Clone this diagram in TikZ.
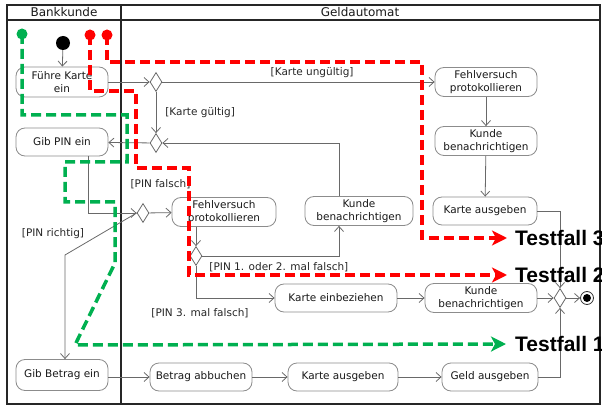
\documentclass[tikz,border=0pt]{standalone}
\usepackage{fontspec}
\setsansfont{DejaVu Sans}
\newfontfamily\tffont{Liberation Sans}
\usepackage{xcolor}
\usepackage{tikz}
\usetikzlibrary{%
  shapes.geometric,
  arrows.meta,
  positioning,
  calc}
\definecolor{tfgreen}{RGB}{0,176,80}
\definecolor{tfred}{RGB}{255,0,0}
\definecolor{umlline}{RGB}{105,105,105}
\definecolor{umlborder}{RGB}{140,140,140}
\tikzset{
  %% Activity boxes
  actbox/.style={
    rectangle, rounded corners=9pt,
    draw=umlborder, fill=white, line width=0.8pt,
    align=center, inner sep=1pt,
    minimum height=29pt, text=black!90,
    font=\fontsize{10.5}{12.5}\selectfont\sffamily},
  %% Decision / merge diamonds
  decision/.style={
    diamond, draw=umlline, fill=white, line width=0.8pt,
    inner sep=0pt, minimum width=12pt, minimum height=19pt},
  %% Start and end
  initnode/.style={circle, fill=black, inner sep=0pt, minimum size=14pt},
  finalnode/.style={
    circle, draw=black!80, fill=white, line width=0.8pt,
    inner sep=0pt, minimum size=13pt,
    path picture={\fill[black] (path picture bounding box.center) circle (4pt);}},
  tfdot/.style={circle, fill=#1, inner sep=0pt, minimum size=11pt},
  %% Texts
  guard/.style={font=\fontsize{10.5}{12.5}\selectfont\sffamily,
    text=black!85, inner sep=0pt},
  lanehead/.style={font=\fontsize{12}{14}\selectfont\sffamily,
    text=black!90, inner sep=0pt},
  tflabel/.style={font=\tffont\bfseries\fontsize{21}{24}\selectfont,
    inner sep=0pt, anchor=west},
  %% Arrows
  arrow/.style={-{Straight Barb[length=5pt,width=9pt]}, line width=0.8pt, umlline},
  tfpath/.style={draw=#1, line width=3.5pt, dash pattern=on 10pt off 5pt,
    -{Stealth[length=15pt,width=15pt,inset=4pt,fill=#1]}},
}

\begin{document}
\begin{tikzpicture}[x=1pt, y=-1pt]
  \useasboundingbox (0,0) rectangle (602,406);

  %% Swimlanes
  \draw[line width=1.2pt, black!85] (7,5) rectangle (600,404);
  \draw[line width=1.2pt, black!85] (7,20) -- (600,20);
  \draw[line width=1.2pt, black!85] (121,5) -- (121,404);
  \node[lanehead] (laneA) at (64,12.5) {Bankkunde};
  \node[lanehead] (laneB) at (360,12.5) {Geldautomat};

  %% Bankkunde
  \node[initnode] (init) at (63,43) {};
  \node[actbox, minimum width=92pt, minimum height=30pt] (fuehre) at (62,82)
        {Führe Karte\\ ein};
  \node[actbox, minimum width=92pt, minimum height=28pt] (gibpin) at (62,142)
        {Gib PIN ein};
  \node[actbox, minimum width=92pt, minimum height=31pt] (gibbetrag) at (62,375)
        {Gib Betrag ein};

  %% Decisions
  \node[decision] (dkarte) at (156,82) {};
  \node[decision] (dmerge) at (156,143) {};
  \node[decision] (dpin) at (143,213) {};
  \node[decision] (dzahl) at (196,256) {};
  \node[decision] (dende) at (560,298) {};
  \node[finalnode] (final) at (587,298) {};

  %% Geldautomat, right column
  \node[actbox, minimum width=102pt] (fehlA) at (486,82)
        {Fehlversuch\\ protokollieren};
  \node[actbox, minimum width=102pt] (kundeA) at (486,141)
        {Kunde\\ benachrichtigen};
  \node[actbox, minimum width=104pt, minimum height=28pt] (karteA) at (485,211)
        {Karte ausgeben};

  %% Geldautomat, PIN handling
  \node[actbox, minimum width=104pt] (fehlB) at (224,212)
        {Fehlversuch\\ protokollieren};
  \node[actbox, minimum width=108pt] (kundeB) at (359,211)
        {Kunde\\ benachrichtigen};
  \node[actbox, minimum width=122pt, minimum height=28pt] (einbez) at (336,298)
        {Karte einbeziehen};
  \node[actbox, minimum width=112pt] (kundeC) at (481,298)
        {Kunde\\ benachrichtigen};

  %% Geldautomat, payout
  \node[actbox, minimum width=102pt, minimum height=28pt] (abbuchen) at (201,377)
        {Betrag abbuchen};
  \node[actbox, minimum width=110pt, minimum height=28pt] (karteB) at (343,377)
        {Karte ausgeben};
  \node[actbox, minimum width=96pt, minimum height=28pt] (geld) at (490,377)
        {Geld ausgeben};

  %% Control flow
  \draw[arrow] (init) -- (fuehre);
  \draw[arrow] (fuehre) -- (dkarte);
  \draw[arrow] (dkarte) -- node[guard, above=4pt, pos=0.55] {[Karte ungültig]} (fehlA);
  \draw[arrow] (dkarte) -- node[guard, right=9pt] {[Karte gültig]} (dmerge);
  \draw[arrow] (dmerge) -- (gibpin);
  \draw[arrow] ([xshift=-20pt]kundeB.north) |- (dmerge.east);
  \draw[arrow] (fehlA) -- (kundeA);
  \draw[arrow] (kundeA) -- (karteA);
  \draw[arrow] ([xshift=26pt]gibpin.south) |- (dpin.west);
  \draw[arrow] (dpin) -- node[guard, above=23pt] {[PIN falsch]} (fehlB);
  \coordinate (richtig) at (65,255);
  \draw[arrow] (dpin.west) -- (richtig) -- ([xshift=3pt]gibbetrag.north);
  \node[guard] (lblrichtig) at (53,234) {[PIN richtig]};
  \draw[arrow] (fehlB.south -| dzahl.north) -- (dzahl.north);
  \draw[arrow] (dzahl.east) -| node[guard, below=6pt, pos=0.28] {[PIN 1. oder 2. mal falsch]}
        ([xshift=-20pt]kundeB.south);
  \draw[arrow] (dzahl.south) |- node[guard, below=10pt, pos=0.5, xshift=4pt] {[PIN 3. mal falsch]}
        (einbez.west);
  \draw[arrow] (einbez) -- (kundeC);
  \draw[arrow] (kundeC) -- (dende);
  \draw[arrow] (karteA.east) -| (dende.north);
  \draw[arrow] (gibbetrag.east |- abbuchen.west) -- (abbuchen);
  \draw[arrow] (abbuchen) -- (karteB);
  \draw[arrow] (karteB) -- (geld);
  \draw[arrow] (geld.east) -| (dende.south);
  \draw[arrow] (dende) -- (final);

  %% Test cases
  \node[tflabel] (tf3) at (515,238) {Testfall 3};
  \node[tflabel] (tf2) at (515,275) {Testfall 2};
  \node[tflabel] (tf1) at (515,344) {Testfall 1};
  \coordinate (gstart) at (22,34);
  \coordinate (rstartA) at (90,35);
  \coordinate (rstartB) at (107,35);
  \draw[tfpath=tfgreen] (gstart) -- (22,115) -- (127,115) -- (127,162) -- (65,162)
        -- (65,202) -- (115,202) -- (115,263) -- (75,345) -- ([xshift=-9pt]tf1.west);
  \draw[tfpath=tfred] (rstartA) -- (90,91) -- (136,91) -- (136,168) -- (189,168)
        -- (189,275) -- ([xshift=-8pt]tf2.west);
  \draw[tfpath=tfred] (rstartB) -- (107,62) -- (422,62) -- (422,238)
        -- ([xshift=-8pt]tf3.west);
  \node[tfdot=tfgreen] (gdot) at (gstart) {};
  \node[tfdot=tfred] (rdotA) at (rstartA) {};
  \node[tfdot=tfred] (rdotB) at (rstartB) {};

\end{tikzpicture}
\end{document}
